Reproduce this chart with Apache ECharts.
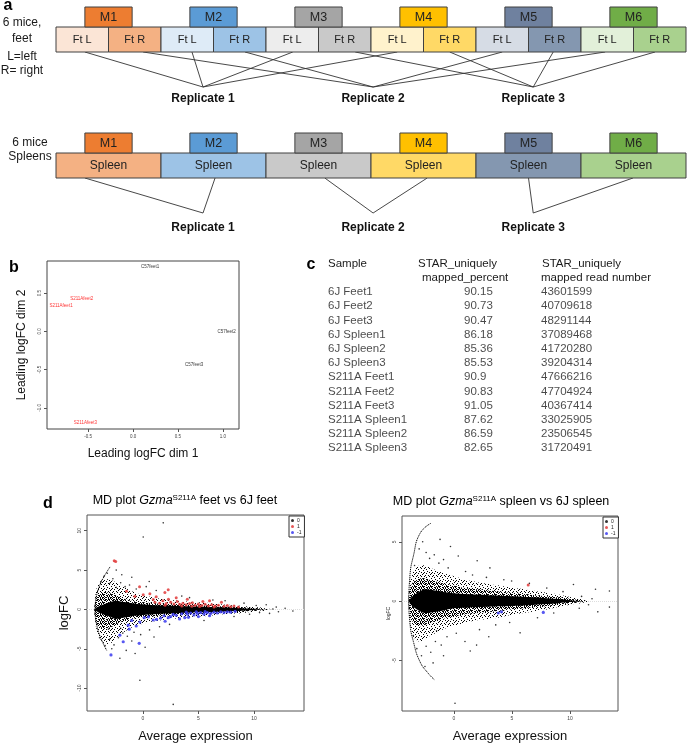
<!DOCTYPE html>
<html lang="en">
<head>
<meta charset="UTF-8">
<script src="https://cdn.jsdelivr.net/npm/echarts@6/dist/echarts.min.js"></script>
<style>html,body{margin:0;padding:0;background:#fff}#chart{width:687px;height:744px}</style>
</head>
<body>
<div id="chart"></div>
<script>
// ---------- data ----------
// a: study design
var mice = ['M1', 'M2', 'M3', 'M4', 'M5', 'M6'];
var feetSamples = ['Ft L', 'Ft R', 'Ft L', 'Ft R', 'Ft L', 'Ft R', 'Ft L', 'Ft R', 'Ft L', 'Ft R', 'Ft L', 'Ft R'];
var feetReplicate = [1, 2, 1, 2, 1, 3, 1, 3, 2, 3, 2, 3];
var spleenSamples = ['Spleen', 'Spleen', 'Spleen', 'Spleen', 'Spleen', 'Spleen'];
var spleenReplicate = [1, 1, 2, 2, 3, 3];
var replicateNames = ['Replicate 1', 'Replicate 2', 'Replicate 3'];

// b: MDS plot
var mdsNames = ['C57feet1', 'C57feet2', 'C57feet3', 'S211Afeet1', 'S211Afeet2', 'S211Afeet3'];
var mdsDim1 = [0.19, 1.04, 0.68, -0.80, -0.57, -0.53];
var mdsDim2 = [0.84, 0.00, -0.43, 0.33, 0.43, -1.20];

// c: mapping table
var tableSamples = ['6J Feet1', '6J Feet2', '6J Feet3', '6J Spleen1', '6J Spleen2', '6J Spleen3',
    'S211A Feet1', 'S211A Feet2', 'S211A Feet3', 'S211A Spleen1', 'S211A Spleen2', 'S211A Spleen3'];
var tablePercent = ['90.15', '90.73', '90.47', '86.18', '85.36', '85.53', '90.9', '90.83', '91.05', '87.62', '86.59', '82.65'];
var tableReads = ['43601599', '40709618', '48291144', '37089468', '41720280', '39204314',
    '47666216', '47704924', '40367414', '33025905', '23506545', '31720491'];

// d: MD plot, feet (dense cloud envelope)
var feetBandX = [-4.35, -4.1, -3.6, -3.0, -2.5, -2.0, -1.0, 0, 1, 2, 3, 4, 5, 6, 7, 8, 9, 10, 10.8, 11.5];
var feetOuterHi = [0.8, 3.0, 3.8, 3.8, 3.5, 3.1, 2.3, 1.8, 1.5, 1.3, 1.15, 1.0, 0.9, 0.8, 0.65, 0.55, 0.45, 0.3, 0.2, 0.05];
var feetOuterLo = [-0.8, -3.0, -4.2, -4.4, -3.8, -3.2, -2.3, -1.8, -1.5, -1.3, -1.15, -1.0, -0.9, -0.8, -0.65, -0.55, -0.45, -0.3, -0.2, -0.05];
var feetMidHi = [0.5, 1.8, 2.2, 2.1, 1.8, 1.5, 1.1, 0.9, 0.8, 0.7, 0.65, 0.6, 0.55, 0.5, 0.42, 0.35, 0.28, 0.18, 0.1, 0.02];
var feetMidLo = [-0.5, -1.9, -2.4, -2.3, -2.0, -1.6, -1.2, -1.0, -0.85, -0.75, -0.7, -0.62, -0.56, -0.5, -0.42, -0.35, -0.28, -0.18, -0.1, -0.02];
var feetCoreHi = [0, 0.3, 0.6, 0.9, 1.1, 1.0, 0.8, 0.65, 0.55, 0.5, 0.45, 0.4, 0.36, 0.32, 0.27, 0.22, 0.16, 0.08, 0.02, 0];
var feetCoreLo = [0, -0.3, -0.6, -0.9, -1.2, -1.1, -0.85, -0.7, -0.6, -0.52, -0.47, -0.42, -0.37, -0.33, -0.28, -0.22, -0.16, -0.08, -0.02, 0];
var feetArc = [[-2.96, 5.4], [-3.57, 4], [-3.9, 3], [-4.13, 2], [-4.26, 1], [-4.31, 0], [-4.27, -1], [-4.15, -2], [-3.96, -3], [-3.68, -4], [-3.26, -5.2]];
var feetOther = [[1.83, 11.0], [0.03, 9.2], [0.57, 3.56], [-0.27, -9.0], [2.73, -12.06], [-2.07, -6.2], [-1.0, -4.0],
    [13.5, -0.2], [11.7, 0.05], [11.1, 0.6], [12.2, -0.3], [12.8, 0.15], [10.5, -0.4], [11.4, -0.5], [12.0, 0.3], [10.2, 0.5],
    [-3.5, 4.2], [-3.2, 4.6], [-3.0, 3.3], [-2.7, 3.9], [-2.4, 2.8], [-2.0, 3.4], [-1.6, 2.9], [-1.2, 3.1], [-0.6, 2.6],
    [0.3, 2.9], [1.2, 2.4], [-3.4, -4.6], [-3.0, -3.8], [-2.6, -4.5], [-2.2, -3.6], [-1.8, -3.0], [-1.4, -3.4], [-0.8, -2.9],
    [-0.2, -3.2], [0.6, -2.6], [1.5, -2.2], [2.4, -1.9], [3.5, 1.7], [4.2, 1.5], [5.5, -1.4], [6.3, 1.2], [7.4, 1.1],
    [8.2, -0.9], [9.1, 0.8], [9.6, -0.6], [-1.5, -5.2], [-0.7, -5.6], [0.2, -4.8], [1.0, -3.5], [-3.8, 3.5], [-3.9, -3.6],
    [-2.8, -5.0], [-2.4, 5.0], [-1.9, 4.4], [-1.0, 4.1], [-3.1, -2.5], [-2.0, -2.4]];
var feetUp = [[-2.58, 6.2], [-2.45, 6.1], [-1.47, 2.3], [-0.72, 1.67], [0.03, 1.88], [0.63, 2.0], [1.98, 2.17], [2.28, 2.5],
    [0.93, 1.26], [1.08, 0.92], [1.5, 0.8], [1.8, 1.1], [2.1, 0.75], [2.5, 0.9], [2.8, 0.7], [3.1, 1.0], [3.3, 0.65],
    [3.6, 0.8], [3.9, 0.6], [4.2, 0.75], [4.46, 0.84], [4.7, 0.55], [5.0, 0.7], [5.3, 0.5], [5.6, 0.65], [5.9, 0.45],
    [6.2, 0.6], [6.5, 0.45], [6.8, 0.55], [7.07, 0.92], [7.3, 0.4], [7.6, 0.5], [7.9, 0.35], [8.2, 0.45], [8.6, 0.3],
    [3.0, 1.5], [4.0, 1.3], [5.4, 1.0], [6.0, 1.1], [2.3, 1.3], [1.2, 1.6], [-0.3, 2.9], [3.5, 0.45], [4.4, 0.4],
    [5.1, 0.38], [6.4, 0.32], [2.0, 0.55]];
var feetDown = [[-2.87, -5.78], [-2.07, -3.27], [-1.77, -4.1], [-1.32, -2.0], [-1.23, -2.5], [-0.33, -4.3], [-0.27, -1.6],
    [0.12, -1.05], [0.93, -1.34], [1.23, -1.26], [2.28, -1.05], [2.73, -0.63], [3.77, -1.05], [1.6, -1.1], [1.9, -0.8],
    [2.5, -0.9], [3.0, -0.75], [3.3, -1.2], [3.5, -0.55], [4.0, -0.6], [4.3, -0.45], [4.6, -0.7], [4.9, -0.5], [5.2, -0.4],
    [5.5, -0.6], [5.8, -0.4], [6.1, -0.5], [6.4, -0.35], [6.7, -0.45], [7.0, -0.3], [7.3, -0.4], [7.6, -0.3], [7.9, -0.35],
    [8.3, -0.25], [4.1, -1.0], [5.0, -0.9], [6.0, -0.8], [3.9, -0.35], [4.8, -0.3], [5.6, -0.28], [-1.0, -1.4], [0.5, -0.95],
    [2.0, -1.5], [-0.6, -2.1]];

// d: MD plot, spleen
var spleenBandX = [-3.9, -3.6, -3.0, -2.5, -2.0, -1.0, 0, 1, 2, 3, 4, 5, 6, 7, 8, 9, 10, 10.8, 11.5];
var spleenOuterHi = [0.8, 2.4, 3.0, 3.0, 2.8, 2.4, 2.1, 1.8, 1.6, 1.45, 1.3, 1.15, 1.0, 0.85, 0.7, 0.55, 0.35, 0.2, 0.05];
var spleenOuterLo = [-0.8, -2.8, -3.4, -3.2, -2.9, -2.4, -2.1, -1.8, -1.6, -1.5, -1.35, -1.15, -1.0, -0.85, -0.7, -0.5, -0.3, -0.2, -0.05];
var spleenMidHi = [0.5, 1.5, 1.9, 1.9, 1.75, 1.5, 1.3, 1.1, 1.0, 0.9, 0.8, 0.7, 0.6, 0.5, 0.42, 0.32, 0.2, 0.1, 0.02];
var spleenMidLo = [-0.5, -1.7, -2.1, -2.0, -1.8, -1.5, -1.3, -1.1, -1.0, -0.9, -0.8, -0.7, -0.6, -0.5, -0.42, -0.3, -0.18, -0.1, -0.02];
var spleenCoreHi = [0, 0.4, 0.8, 1.0, 0.95, 0.8, 0.67, 0.6, 0.55, 0.5, 0.46, 0.42, 0.38, 0.32, 0.25, 0.18, 0.08, 0.02, 0];
var spleenCoreLo = [0, -0.4, -0.8, -1.0, -0.95, -0.8, -0.6, -0.55, -0.5, -0.47, -0.44, -0.4, -0.36, -0.3, -0.24, -0.17, -0.08, -0.02, 0];
var spleenArc = [[-2.0, 6.55], [-2.93, 5.7], [-3.5, 3.8], [-3.8, 2.1], [-3.88, 0], [-3.8, -1.8], [-3.5, -3.4], [-2.93, -5.1], [-2.2, -6.1], [-1.7, -6.6]];
var spleenOther = [[0.09, -8.6], [0.37, 3.8], [3.1, 2.8], [5.7, -2.67], [0.95, -3.4], [1.95, -3.7], [4.97, 1.7], [12.2, 1.0],
    [13.4, 0.86], [13.4, -0.5], [10.3, 1.4], [11.0, 0.4], [11.6, -0.3], [12.4, -0.9], [10.8, -0.6], [11.9, 0.2],
    [-3.0, 4.4], [-2.7, 5.0], [-2.4, 4.1], [-2.1, 3.6], [-1.7, 3.9], [-1.3, 3.2], [-0.9, 3.5], [-0.5, 2.8], [-3.2, -4.0],
    [-2.8, -4.6], [-2.4, -3.8], [-2.0, -4.3], [-1.6, -3.4], [-1.1, -3.7], [-0.6, -3.0], [0.2, -2.7], [1.0, 2.5], [1.6, 2.2],
    [2.2, -2.4], [2.8, 2.0], [3.6, -2.0], [4.3, 1.8], [4.8, -1.8], [6.5, 1.5], [7.2, -1.4], [8.0, 1.1], [8.6, -1.0],
    [9.4, 0.8], [-1.2, 5.2], [-0.3, 4.6], [-2.5, -5.5], [-1.8, -5.2], [-0.9, -4.6], [2.0, 3.4], [-3.4, 3.0], [-3.5, -2.9],
    [1.4, -4.2], [-1.5, -2.5], [3.0, -3.0]];
var spleenUp = [[6.4, 1.36]];
var spleenDown = [[3.82, -1.0], [4.1, -0.9], [7.7, -0.95]];

// ---------- styles / layout ----------
var FONT = '"Liberation Sans", Arial, sans-serif';
var mouseColors = ['#ED7D31', '#5B9BD5', '#A5A5A5', '#FFC000', '#6F819F', '#70AD47'];
var lightColors = ['#FBE5D6', '#DEEBF7', '#EDEDED', '#FFF2CC', '#D6DCE5', '#E2F0D9'];
var midColors = ['#F4B183', '#9DC3E6', '#C9C9C9', '#FFD966', '#8497B0', '#A9D18E'];
var feetAnchor = [0.55, 1.66, 2.59, 3.6, 4.51, 5.7, 6.5, 7.5, 8.5, 9.47, 10.46, 11.41];
var spleenAnchor = [0.55, 3.03, 5.12, 7.07, 9.0, 10.99];
var apexX = [2.8, 6.04, 9.09];

var chart = echarts.init(document.getElementById('chart'));

// panel a rectangles
var rectData = [], rectText = [], rectFill = [], rectFont = [];
feetSamples.forEach(function (s, i) {
    var k = Math.floor(i / 2);
    rectData.push([i, i + 1, 27, 52]);
    rectText.push(s);
    rectFill.push(i % 2 ? midColors[k] : lightColors[k]);
    rectFont.push(11);
});
spleenSamples.forEach(function (s, k) {
    rectData.push([2 * k, 2 * k + 2, 153, 178]);
    rectText.push(s);
    rectFill.push(midColors[k]);
    rectFont.push(12);
});
mice.forEach(function (m, k) {
    [[7, 27], [133, 153]].forEach(function (r) {
        rectData.push([2 * k + 1 - 0.45, 2 * k + 1 + 0.45, r[0], r[1]]);
        rectText.push(m);
        rectFill.push(mouseColors[k]);
        rectFont.push(12.5);
    });
});
var linkData = [];
feetReplicate.forEach(function (r, i) { linkData.push([feetAnchor[i], 52, apexX[r - 1], 87]); });
spleenReplicate.forEach(function (r, i) { linkData.push([spleenAnchor[i], 178, apexX[r - 1], 213]); });
var repData = [], repText = [];
replicateNames.forEach(function (n, i) {
    repData.push([apexX[i], 99]); repText.push(n);
    repData.push([apexX[i], 228]); repText.push(n);
});

// stipple textures for the dense point cloud
function dotPattern(size, dots) {
    var c = document.createElement('canvas');
    c.width = size; c.height = size;
    var ctx = c.getContext('2d');
    ctx.fillStyle = '#000';
    dots.forEach(function (d) { ctx.fillRect(d[0], d[1], 1, 1); });
    return c;
}
var sparseTex = dotPattern(8, [[0, 0], [5, 0], [2, 1], [7, 2], [3, 3], [0, 4], [5, 4], [2, 5], [6, 6], [1, 7], [4, 7], [7, 5]]);
var denseTex = dotPattern(8, [[1, 0], [3, 0], [6, 1], [0, 2], [4, 2], [2, 3], [5, 3], [7, 3], [1, 5], [3, 4], [6, 5],
    [0, 6], [4, 6], [2, 7], [5, 7], [7, 7], [6, 2], [4, 5]]);

function bandSeries(grid, xs, hi, lo, fill) {
    return {
        type: 'custom', xAxisIndex: grid, yAxisIndex: grid, silent: true, clip: true, z: 2,
        data: [0],
        renderItem: function (params, api) {
            var pts = [];
            xs.forEach(function (x, i) { pts.push(api.coord([x, hi[i]])); });
            for (var i = xs.length - 1; i >= 0; i--) pts.push(api.coord([xs[i], lo[i]]));
            return {type: 'polygon', shape: {points: pts, smooth: 0.3}, style: {fill: fill, stroke: null}};
        }
    };
}

function mdAxes(grid, xr, yr, yTicks) {
    var tickStyle = {show: true, length: 3, lineStyle: {color: '#555', width: 1}};
    return {
        x: {
            type: 'value', gridIndex: grid, min: xr[0], max: xr[1],
            axisLine: {show: false, onZero: false}, splitLine: {show: false},
            axisTick: Object.assign({customValues: [0, 5, 10]}, tickStyle),
            axisLabel: {customValues: [0, 5, 10], fontSize: 5, color: '#444', margin: 5, fontFamily: FONT},
            name: 'Average expression', nameLocation: 'middle', nameGap: 19,
            nameTextStyle: {fontSize: 13, color: '#111', fontFamily: FONT}
        },
        y: {
            type: 'value', gridIndex: grid, min: yr[0], max: yr[1],
            axisLine: {show: false, onZero: false}, splitLine: {show: false},
            axisTick: Object.assign({customValues: yTicks}, tickStyle),
            axisLabel: {customValues: yTicks, fontSize: 5, color: '#444', margin: 5, rotate: 90, fontFamily: FONT}
        }
    };
}
var mdL = mdAxes(2, [-5.03, 14.5], [-12.9, 12.0], [-10, -5, 0, 5, 10]);
mdL.y.name = 'logFC'; mdL.y.nameLocation = 'middle'; mdL.y.nameGap = 16;
mdL.y.nameTextStyle = {fontSize: 13, color: '#111', fontFamily: FONT};
var mdR = mdAxes(3, [-4.48, 14.14], [-9.25, 7.17], [-5, 0, 5]);
mdR.y.name = 'logFC'; mdR.y.nameLocation = 'middle'; mdR.y.nameGap = 10;
mdR.y.nameTextStyle = {fontSize: 5, color: '#111', fontFamily: FONT};

function mdSeries(grid, xs, oHi, oLo, mHi, mLo, cHi, cLo, arc, other, up, down) {
    return [
        bandSeries(grid, xs, oHi, oLo, {image: sparseTex, repeat: 'repeat'}),
        bandSeries(grid, xs, mHi, mLo, {image: denseTex, repeat: 'repeat'}),
        bandSeries(grid, xs, cHi, cLo, '#000'),
        {
            type: 'line', name: 'arc', xAxisIndex: grid, yAxisIndex: grid, data: arc, smooth: true,
            showSymbol: false, silent: true, lineStyle: {color: '#000', width: 1, type: [1.2, 0.8]}, z: 3
        },
        {
            type: 'scatter', name: '0', xAxisIndex: grid, yAxisIndex: grid, data: other, symbolSize: 1.6,
            itemStyle: {color: '#000'}, z: 3, silent: true,
            markLine: {
                silent: true, symbol: 'none', label: {show: false}, z: 1,
                lineStyle: {color: '#ddd', type: 'dotted', width: 1}, data: [{yAxis: 0}]
            }
        },
        {
            type: 'scatter', name: '1', xAxisIndex: grid, yAxisIndex: grid, data: up, symbolSize: 3,
            itemStyle: {color: '#E23A3A', opacity: 0.85}, z: 4, silent: true
        },
        {
            type: 'scatter', name: '-1', xAxisIndex: grid, yAxisIndex: grid, data: down, symbolSize: 3.2,
            itemStyle: {color: '#3B3BF0', opacity: 0.85}, z: 4, silent: true
        }
    ];
}

function mdLegend(left, top) {
    return {
        data: [{name: '0', itemStyle: {color: '#000'}}, {name: '1', itemStyle: {color: '#E23A3A'}}, {name: '-1', itemStyle: {color: '#3B3BF0'}}],
        orient: 'vertical', left: left, top: top, padding: [2, 3, 2, 2], itemGap: 1, itemWidth: 3, itemHeight: 3,
        icon: 'circle', borderColor: '#333', borderWidth: 1, backgroundColor: '#fff', selectedMode: false,
        textStyle: {fontSize: 5, color: '#222', fontFamily: FONT, padding: [0, 0, 0, -2]}
    };
}

function tableColumn(grid, values) {
    return {
        type: 'scatter', xAxisIndex: grid, yAxisIndex: grid, symbolSize: 0, silent: true,
        data: values.map(function (v, i) { return [0, i, v]; }),
        label: {
            show: true, position: 'right', distance: 0, fontSize: 11.5, color: '#1a1a1a', fontFamily: FONT,
            formatter: function (p) { return p.value[2]; }
        }
    };
}
function tableGrid(left) { return {left: left, top: 285, width: 60, height: 170.4}; }
function hiddenAxis(grid, min, max, inverse) {
    return {type: 'value', gridIndex: grid, min: min, max: max, inverse: !!inverse, show: false};
}

function txt(x, y, text, size, opts) {
    var st = Object.assign({
        text: text, font: size + 'px ' + FONT, fill: '#1a1a1a',
        align: 'center', verticalAlign: 'middle', textAlign: 'center', textVerticalAlign: 'middle'
    }, opts || {});
    if (st.bold) { st.font = 'bold ' + st.font; delete st.bold; }
    return {type: 'text', x: x, y: y, silent: true, style: st};
}
var leftAlign = {align: 'left', textAlign: 'left'};

function mdTitle(cx, cy, tissue) {
    return {
        type: 'text', x: cx, y: cy, silent: true,
        style: {
            text: '{a|MD plot }{i|Gzma}{s|S211A}{a| ' + tissue + ' vs 6J ' + tissue + '}',
            align: 'center', verticalAlign: 'middle', textAlign: 'center', textVerticalAlign: 'middle',
            rich: {
                a: {fontSize: 12.5, fontFamily: FONT, color: '#111', lineHeight: 15},
                i: {fontSize: 12.5, fontFamily: FONT, fontStyle: 'italic', color: '#111', lineHeight: 15},
                s: {fontSize: 8, fontFamily: FONT, color: '#111', verticalAlign: 'top', lineHeight: 15, padding: [0, 0, 6, 0]}
            }
        }
    };
}

var mdsTick = {show: true, length: 3, lineStyle: {color: '#555'}};
var option = {
    backgroundColor: '#fff',
    animation: false,
    legend: [mdLegend(289, 516), mdLegend(603, 517)],
    grid: [
        {left: 56, top: 0, width: 630, height: 240},
        {left: 47, top: 261, width: 192, height: 168, show: true, borderColor: '#444', borderWidth: 1},
        {left: 87, top: 515, width: 217, height: 198, show: true, borderColor: '#555', borderWidth: 1},
        {left: 402, top: 516, width: 216, height: 197, show: true, borderColor: '#555', borderWidth: 1},
        tableGrid(328), tableGrid(464), tableGrid(541)
    ],
    xAxis: [
        hiddenAxis(0, 0, 12),
        {
            type: 'value', gridIndex: 1, min: -0.956, max: 1.178,
            axisLine: {show: false, onZero: false}, splitLine: {show: false},
            axisTick: Object.assign({customValues: [-0.5, 0, 0.5, 1.0]}, mdsTick),
            axisLabel: {customValues: [-0.5, 0, 0.5, 1.0], fontSize: 4.5, color: '#444', margin: 5, fontFamily: FONT,
                formatter: function (v) { return v.toFixed(1); }},
            name: 'Leading logFC dim 1', nameLocation: 'middle', nameGap: 19,
            nameTextStyle: {fontSize: 12, color: '#111', fontFamily: FONT}
        },
        mdL.x, mdR.x,
        hiddenAxis(4, 0, 1), hiddenAxis(5, 0, 1), hiddenAxis(6, 0, 1)
    ],
    yAxis: [
        hiddenAxis(0, 0, 240, true),
        {
            type: 'value', gridIndex: 1, min: -1.276, max: 0.921,
            axisLine: {show: false, onZero: false}, splitLine: {show: false},
            axisTick: Object.assign({customValues: [-1.0, -0.5, 0, 0.5]}, mdsTick),
            axisLabel: {customValues: [-1.0, -0.5, 0, 0.5], fontSize: 4.5, color: '#444', margin: 5, rotate: 90, fontFamily: FONT,
                formatter: function (v) { return v.toFixed(1); }},
            name: 'Leading logFC dim 2', nameLocation: 'middle', nameGap: 19,
            nameTextStyle: {fontSize: 12, color: '#111', fontFamily: FONT}
        },
        mdL.y, mdR.y,
        hiddenAxis(4, -0.5, 11.5, true), hiddenAxis(5, -0.5, 11.5, true), hiddenAxis(6, -0.5, 11.5, true)
    ],
    series: [
        {
            type: 'custom', xAxisIndex: 0, yAxisIndex: 0, silent: true, clip: false, data: linkData, z: 1,
            renderItem: function (params, api) {
                var a = api.coord([api.value(0), api.value(1)]);
                var b = api.coord([api.value(2), api.value(3)]);
                return {type: 'line', shape: {x1: a[0], y1: a[1], x2: b[0], y2: b[1]}, style: {stroke: '#333', lineWidth: 0.9}};
            }
        },
        {
            type: 'custom', xAxisIndex: 0, yAxisIndex: 0, silent: true, clip: false, data: rectData, z: 2,
            renderItem: function (params, api) {
                var i = params.dataIndex;
                var p0 = api.coord([api.value(0), api.value(2)]);
                var p1 = api.coord([api.value(1), api.value(3)]);
                return {
                    type: 'group', children: [
                        {type: 'rect', shape: {x: p0[0], y: p0[1], width: p1[0] - p0[0], height: p1[1] - p0[1]},
                            style: {fill: rectFill[i], stroke: '#404040', lineWidth: 1}},
                        {type: 'text', style: {text: rectText[i], x: (p0[0] + p1[0]) / 2, y: (p0[1] + p1[1]) / 2 + 0.5,
                            align: 'center', verticalAlign: 'middle', font: rectFont[i] + 'px ' + FONT, fill: '#222'}}
                    ]
                };
            }
        },
        {
            type: 'custom', xAxisIndex: 0, yAxisIndex: 0, silent: true, clip: false, data: repData, z: 2,
            renderItem: function (params, api) {
                var p = api.coord([api.value(0), api.value(1)]);
                return {type: 'text', style: {text: repText[params.dataIndex], x: p[0], y: p[1], align: 'center',
                    verticalAlign: 'middle', font: 'bold 12px ' + FONT, fill: '#111'}};
            }
        },
        {
            type: 'scatter', xAxisIndex: 1, yAxisIndex: 1, symbolSize: 0, silent: true,
            data: mdsNames.slice(0, 3).map(function (n, i) { return {name: n, value: [mdsDim1[i], mdsDim2[i]]}; }),
            label: {show: true, position: 'inside', formatter: '{b}', fontSize: 4.5, color: '#000', fontFamily: FONT}
        },
        {
            type: 'scatter', xAxisIndex: 1, yAxisIndex: 1, symbolSize: 0, silent: true,
            data: mdsNames.slice(3).map(function (n, i) { return {name: n, value: [mdsDim1[i + 3], mdsDim2[i + 3]]}; }),
            label: {show: true, position: 'inside', formatter: '{b}', fontSize: 4.5, color: '#F00', fontFamily: FONT}
        },
        tableColumn(4, tableSamples), tableColumn(5, tablePercent), tableColumn(6, tableReads)
    ].concat(
        mdSeries(2, feetBandX, feetOuterHi, feetOuterLo, feetMidHi, feetMidLo, feetCoreHi, feetCoreLo, feetArc, feetOther, feetUp, feetDown),
        mdSeries(3, spleenBandX, spleenOuterHi, spleenOuterLo, spleenMidHi, spleenMidLo, spleenCoreHi, spleenCoreLo, spleenArc, spleenOther, spleenUp, spleenDown)
    ),
    graphic: [
        txt(8, 6, 'a', 16, {bold: true, fill: '#000'}),
        txt(22, 23, '6 mice,', 12), txt(22, 39, 'feet', 12), txt(22, 57, 'L=left', 12), txt(22, 71, 'R= right', 12),
        txt(30, 143, '6 mice', 12), txt(30, 157, 'Spleens', 12),
        txt(14, 268, 'b', 16, {bold: true, fill: '#000'}),
        txt(311, 265, 'c', 16, {bold: true, fill: '#000'}),
        txt(328, 264, 'Sample', 11.5, leftAlign),
        txt(418, 264, 'STAR_uniquely', 11.5, leftAlign),
        txt(422, 278, 'mapped_percent', 11.5, leftAlign),
        txt(542, 264, 'STAR_uniquely', 11.5, leftAlign),
        txt(541, 278, 'mapped read number', 11.5, leftAlign),
        txt(48, 504, 'd', 16, {bold: true, fill: '#000'}),
        mdTitle(185, 501, 'feet'),
        mdTitle(501, 502, 'spleen')
    ]
};
chart.setOption(option);
</script>
</body>
</html>
